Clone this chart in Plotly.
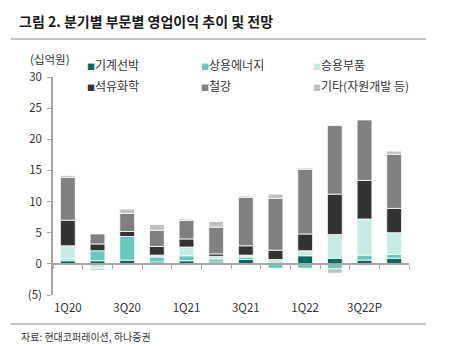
import plotly.graph_objects as go

categories = ["1Q20", "2Q20", "3Q20", "4Q20", "1Q21", "2Q21", "3Q21", "4Q21", "1Q22", "2Q22", "3Q22P", "4Q22P"]
machinery = [0.5, 0.5, 0.6, 0.3, 0.5, 0.3, 0.7, 0.0, 1.3, 0.9, 0.6, 0.9]
commercial_energy = [0.3, 1.6, 3.8, 0.8, 0.8, 0.5, 0.4, -0.7, -0.7, -0.8, 0.8, 0.6]
auto_parts = [2.1, -0.7, 0.0, 0.3, 1.4, 0.4, 0.3, 0.7, 0.8, 3.8, 5.8, 3.5]
petrochem = [4.1, 1.1, 0.8, 1.4, 1.3, 0.4, 1.5, 1.5, 2.7, 6.5, 6.2, 3.9]
steel = [6.9, 1.6, 2.9, 2.6, 3.0, 4.3, 7.8, 8.3, 10.4, 11.0, 9.7, 8.7]
others = [0.3, -0.3, 0.7, 0.9, 0.2, 0.9, 0.2, 0.7, 0.2, -0.7, -0.3, 0.5]

series_names = ["기계선박", "상용에너지", "승용부품", "석유화학", "철강", "기타(자원개발 등)"]
series_values = [machinery, commercial_energy, auto_parts, petrochem, steel, others]
colors = ["#006b5e", "#66c9ba", "#c6ebe5", "#333333", "#808080", "#c0c0c0"]

label_ticks = [categories[i] for i in range(0, 12, 2)]
y_ticks = [-5, 0, 5, 10, 15, 20, 25, 30]
y_ticktext = ["(5)", "0", "5", "10", "15", "20", "25", "30"]

W, H = 453, 349
ML, MR, MT, MB = 53, 44, 77, 54
PW, PH = W - ML - MR, H - MT - MB

def px(x):
    return (x - ML) / PW

def py(y):
    return (H - MB - y) / PH

FONT = "Noto Sans CJK KR"

fig = go.Figure()
for name, vals, col in zip(series_names, series_values, colors):
    fig.add_trace(go.Bar(
        x=categories, y=vals, name=name, width=0.5,
        marker=dict(color=col, line=dict(color="white", width=0.8)),
        showlegend=False,
    ))

# empty helper trace so the label axis (x2) gets drawn
fig.add_trace(go.Scatter(x=[], y=[], xaxis="x2", yaxis="y", showlegend=False, hoverinfo="skip"))

# legend as text items
legend_pos = [(85, 64), (199, 64), (311, 64), (85, 85), (199, 85), (311, 85)]
for (lx, ly), name, col in zip(legend_pos, series_names, colors):
    fig.add_annotation(
        x=px(lx), y=py(ly), xref="paper", yref="paper", xanchor="left", yanchor="middle",
        text=f'<span style="color:{col};font-size:8px">■</span>{name}',
        showarrow=False, font=dict(family=FONT, size=12, color="#333333"),
    )

fig.add_annotation(x=px(50), y=py(59), xref="paper", yref="paper", xanchor="center", yanchor="middle",
                   text="(십억원)", showarrow=False, font=dict(family=FONT, size=11.5, color="#333333"))
fig.add_annotation(x=px(19), y=py(336), xref="paper", yref="paper", xanchor="left", yanchor="middle",
                   text="자료: 현대코퍼레이션, 하나증권", showarrow=False, font=dict(family=FONT, size=10, color="#333333"))

for yline in (39, 324):
    fig.add_shape(type="line", xref="paper", yref="paper", x0=px(11), x1=px(426), y0=py(yline), y1=py(yline),
                  line=dict(color="#8c8c8c", width=1))

fig.update_layout(
    width=W, height=H,
    margin=dict(l=ML, r=MR, t=MT, b=MB, pad=0),
    paper_bgcolor="white", plot_bgcolor="white",
    barmode="relative", bargap=0.5,
    title=dict(text="<b>그림 2. 분기별 부문별 영업이익 추이 및 전망</b>", x=19 / W, y=1 - 22 / H,
               xref="container", yref="container", xanchor="left", yanchor="middle",
               font=dict(family=FONT, size=14, color="#1a1a1a")),
    font=dict(family=FONT, color="#333333"),
    xaxis=dict(type="category", range=[-0.5, 11.5], anchor="free", position=5 / 35,
               showline=True, linecolor="#a6a6a6", linewidth=1.5,
               ticks="outside", tickson="boundaries", ticklen=4, tickcolor="#a6a6a6", tickwidth=1,
               showticklabels=False, showgrid=False, zeroline=False),
    xaxis2=dict(overlaying="x", anchor="y", side="bottom", range=[-0.5, 11.5],
                tickmode="array", tickvals=[0, 2, 4, 6, 8, 10], ticktext=label_ticks,
                showline=False, ticks="", showgrid=False, zeroline=False,
                ticklabelstandoff=4,
                tickfont=dict(family=FONT, size=11.5, color="#333333")),
    yaxis=dict(range=[-5, 30], tickmode="array", tickvals=y_ticks, ticktext=y_ticktext,
               showline=True, linecolor="#a6a6a6", linewidth=1.5,
               ticks="outside", ticklen=4, tickcolor="#a6a6a6", tickwidth=1,
               ticklabelstandoff=3,
               showgrid=False, zeroline=False,
               tickfont=dict(family=FONT, size=11.5, color="#333333")),
)

fig.write_html("out.html")
